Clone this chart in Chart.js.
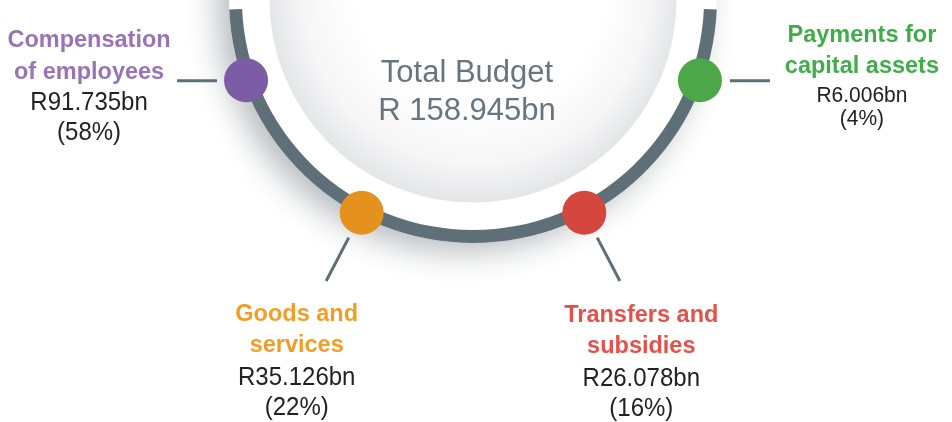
<!DOCTYPE html>
<html>
<head>
<meta charset="utf-8">
<script src="https://cdn.jsdelivr.net/npm/chart.js@4.4.1/dist/chart.umd.min.js"></script>
<style>
  html, body { margin: 0; padding: 0; background: #fff; }
  #wrap { width: 952px; height: 422px; overflow: hidden; }
</style>
</head>
<body>
<div id="wrap"><canvas id="budgetChart" width="952" height="422"></canvas></div>
<script>
// Budget by economic classification (R billion)
const categories = [['Compensation', 'of employees'], ['Goods and', 'services'], ['Transfers and', 'subsidies'], ['Payments for', 'capital assets']];
const amounts = [91.735, 35.126, 26.078, 6.006];
const shares = [58, 22, 16, 4];
const totalTitle = 'Total Budget';

const totalAmount = amounts.reduce((a, b) => a + b, 0);

// look
const ringColor = '#5e6f78';
const markerColors = ['#7d5ca6', '#e4911e', '#d5463f', '#4ba747'];
const labelColors = ['#9a72b7', '#f39c26', '#e6504a', '#3fad49'];
const markerAngles = [160.3, 117.5, 62.5, 19.7]; // degrees, clockwise from 3 o'clock
const fontFamily = '"Liberation Sans", Arial, Helvetica, sans-serif';

// where each label block sits, relative to its marker
const labelLayout = [
    { dx: -157, dy: -33, gaps: [31.5, 31.5, 30], valueSize: 24, line: 'left' },
    { dx: -65, dy: 108, gaps: [31, 33, 30], valueSize: 24, line: 'radial' },
    { dx: 57, dy: 109, gaps: [31, 33, 30], valueSize: 24, line: 'radial' },
    { dx: 162, dy: -38, gaps: [30.5, 29.7, 23], valueSize: 21, line: 'right' }
];

// text a little taller than the font's own proportions
function tallText(c, txt, x, y, sy) {
    c.save();
    c.translate(x, y);
    c.scale(1, sy);
    c.fillText(txt, 0, 0);
    c.restore();
}

const ringPlugin = {
    id: 'ringDecor',
    beforeDatasetsDraw(chart) {
        const arc = chart.getDatasetMeta(0).data[0];
        const c = chart.ctx;
        c.save();
        // white plate with soft shadow towards lower left
        c.shadowColor = 'rgba(45, 55, 65, 0.32)';
        c.shadowBlur = 30;
        c.shadowOffsetX = -12;
        c.shadowOffsetY = 10;
        c.fillStyle = '#ffffff';
        c.beginPath();
        c.arc(arc.x, arc.y, arc.outerRadius, 0, Math.PI * 2);
        c.fill();
        c.restore();

        // inner bowl
        const bowlR = arc.innerRadius - 27;
        c.save();
        const g = c.createRadialGradient(arc.x + 8, arc.y - 20, bowlR * 0.62, arc.x, arc.y, bowlR);
        g.addColorStop(0, '#ffffff');
        g.addColorStop(0.6, '#f6f6f7');
        g.addColorStop(1, '#e4e5e7');
        c.fillStyle = g;
        c.beginPath();
        c.arc(arc.x, arc.y, bowlR, 0, Math.PI * 2);
        c.fill();
        c.strokeStyle = 'rgba(255,255,255,0.9)';
        c.lineWidth = 1;
        c.stroke();
        c.restore();
    },
    afterDatasetsDraw(chart) {
        const arc = chart.getDatasetMeta(0).data[0];
        const c = chart.ctx;
        const markR = (arc.innerRadius + arc.outerRadius) / 2 + 3.5;

        c.save();
        categories.forEach((cat, i) => {
            const a = markerAngles[i] * Math.PI / 180;
            const mx = arc.x + Math.cos(a) * markR;
            const my = arc.y + Math.sin(a) * markR;
            const lay = labelLayout[i];

            // connector
            c.strokeStyle = ringColor;
            c.lineWidth = 3;
            c.beginPath();
            if (lay.line === 'left') {
                c.moveTo(mx - 29, my + 0.5);
                c.lineTo(mx - 69, my + 0.5);
            } else if (lay.line === 'right') {
                c.moveTo(mx + 30, my + 0.5);
                c.lineTo(mx + 70, my + 0.5);
            } else {
                c.moveTo(mx + Math.cos(a) * 28, my + Math.sin(a) * 28);
                c.lineTo(mx + Math.cos(a) * 77, my + Math.sin(a) * 77);
            }
            c.stroke();

            // marker dot
            c.fillStyle = markerColors[i];
            c.beginPath();
            c.arc(mx, my, 22, 0, Math.PI * 2);
            c.fill();

            // label block
            const lx = mx + lay.dx;
            let ly = my + lay.dy;
            c.textAlign = 'center';
            c.textBaseline = 'alphabetic';
            c.fillStyle = labelColors[i];
            c.font = 'bold 23.5px ' + fontFamily;
            tallText(c, cat[0], lx, ly, 1.05);
            ly += lay.gaps[0];
            tallText(c, cat[1], lx, ly, 1.05);
            ly += lay.gaps[1];
            c.fillStyle = '#222222';
            c.font = lay.valueSize + 'px ' + fontFamily;
            tallText(c, 'R' + amounts[i].toFixed(3) + 'bn', lx, ly, 1.07);
            ly += lay.gaps[2];
            tallText(c, '(' + shares[i] + '%)', lx, ly, 1.07);
        });

        // total in the middle
        c.fillStyle = '#66767f';
        c.font = '31px ' + fontFamily;
        c.textAlign = 'center';
        c.fillText(totalTitle, arc.x - 6, arc.y + 83);
        c.fillText('R ' + totalAmount.toFixed(3) + 'bn', arc.x - 6, arc.y + 121);
        c.restore();
    }
};

const ctx = document.getElementById('budgetChart').getContext('2d');
new Chart(ctx, {
    type: 'doughnut',
    data: {
        labels: [totalTitle],
        datasets: [{
            data: [totalAmount],
            backgroundColor: ringColor,
            borderWidth: 0
        }]
    },
    options: {
        responsive: false,
        animation: false,
        events: [],
        rotation: 92.5,
        circumference: 175,
        cutout: '94.7%',
        radius: 244,
        layout: {
            padding: { top: 0, left: 0, right: 6, bottom: 170 }
        },
        plugins: {
            legend: { display: false },
            tooltip: { enabled: false }
        }
    },
    plugins: [ringPlugin]
});
</script>
</body>
</html>
